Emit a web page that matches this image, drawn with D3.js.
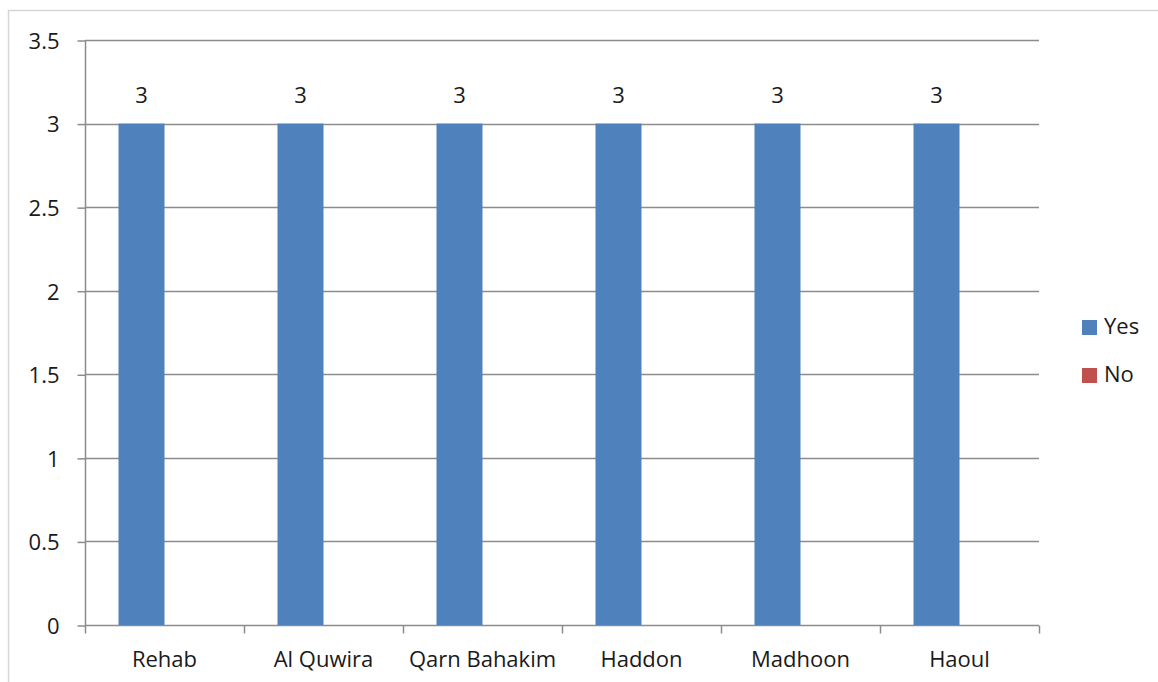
<!DOCTYPE html>
<html>
<head>
<meta charset="utf-8">
<script src="https://cdn.jsdelivr.net/npm/d3@7/dist/d3.min.js"></script>
<style>
  html, body { margin: 0; padding: 0; background: #fff; }
  svg { display: block; font-family: "Open Sans", "Liberation Sans", sans-serif; }
</style>
</head>
<body>
<svg id="chart" width="1158" height="682"></svg>
<script>
// Sites surveyed and the count of "Yes" / "No" answers for each
const categories = ["Rehab", "Al Quwira", "Qarn Bahakim", "Haddon", "Madhoon", "Haoul"];
const seriesNames = ["Yes", "No"];
const yesValues = [3, 3, 3, 3, 3, 3];
const noValues = [null, null, null, null, null, null];
const yTickValues = [0, 0.5, 1, 1.5, 2, 2.5, 3, 3.5];
const yTickLabels = ["0", "0.5", "1", "1.5", "2", "2.5", "3", "3.5"];
const colors = { Yes: "#4F81BD", No: "#C0504D" };

const svg = d3.select("#chart");
const gridColor = "#8c8c8c";

// outer chart frame
svg.append("rect")
  .attr("x", 8.5).attr("y", 10.5)
  .attr("width", 1170).attr("height", 690)
  .attr("fill", "none").attr("stroke", "#d6d6d6").attr("stroke-width", 1.5);

const plot = { left: 85, right: 1039, top: 40, bottom: 625 };

const y = d3.scaleLinear().domain([0, 3.5]).range([plot.bottom, plot.top]);
const x = d3.scaleBand().domain(categories).range([plot.left, plot.right]).paddingInner(0).paddingOuter(0);
const xs = d3.scaleBand().domain(seriesNames).range([0, x.bandwidth()]).paddingInner(0).paddingOuter(0.728);

// horizontal gridlines
svg.append("g").selectAll("line")
  .data(yTickValues.filter(v => v > 0))
  .join("line")
  .attr("x1", plot.left).attr("x2", plot.right)
  .attr("y1", d => Math.round(y(d)) + 0.5).attr("y2", d => Math.round(y(d)) + 0.5)
  .attr("stroke", gridColor).attr("stroke-width", 1.5);

// y axis
const yAxis = d3.axisLeft(y)
  .tickValues(yTickValues)
  .tickFormat((d, i) => yTickLabels[i])
  .tickSize(8).tickPadding(18);
const gy = svg.append("g").attr("transform", `translate(${plot.left + 0.5},0.5)`).call(yAxis);
gy.select(".domain").attr("stroke", gridColor).attr("stroke-width", 1.5).attr("d", `M0,${plot.top}V${plot.bottom}`);
gy.selectAll(".tick line").attr("stroke", gridColor).attr("stroke-width", 1.5);
gy.selectAll(".tick text").attr("font-size", 22).attr("fill", "#1a1a1a")
  .attr("font-family", "'Open Sans', sans-serif").attr("dy", "0.36em");

// x axis with tick marks at category boundaries
const gx = svg.append("g").attr("transform", `translate(0,${plot.bottom + 0.5})`);
gx.append("line")
  .attr("x1", plot.left).attr("x2", plot.right)
  .attr("stroke", gridColor).attr("stroke-width", 1.5);
const bounds = categories.map(c => x(c)).concat([x(categories[categories.length - 1]) + x.bandwidth()]);
gx.selectAll("line.tk").data(bounds).join("line").attr("class", "tk")
  .attr("x1", d => Math.round(d) + 0.5).attr("x2", d => Math.round(d) + 0.5)
  .attr("y1", 0).attr("y2", 8)
  .attr("stroke", gridColor).attr("stroke-width", 1.5);
gx.selectAll("text").data(categories).join("text")
  .attr("x", d => x(d) + x.bandwidth() / 2)
  .attr("y", 41)
  .attr("text-anchor", "middle")
  .attr("font-size", 22).attr("fill", "#1a1a1a")
  .text(d => d);

// bars
const rows = categories.map((c, i) => ({ cat: c, Yes: yesValues[i], No: noValues[i] }));
const groups = svg.append("g").selectAll("g")
  .data(rows).join("g")
  .attr("transform", d => `translate(${x(d.cat)},0)`);

groups.selectAll("rect")
  .data(d => seriesNames.map(s => ({ s, v: d[s] })).filter(e => e.v != null))
  .join("rect")
  .attr("x", d => xs(d.s))
  .attr("width", xs.bandwidth())
  .attr("y", d => y(d.v))
  .attr("height", d => y(0) - y(d.v))
  .attr("fill", d => colors[d.s]);

// value labels above the bars
groups.selectAll("text")
  .data(d => seriesNames.map(s => ({ s, v: d[s] })).filter(e => e.v != null))
  .join("text")
  .attr("x", d => xs(d.s) + xs.bandwidth() / 2)
  .attr("y", d => y(d.v) - 21)
  .attr("text-anchor", "middle")
  .attr("font-size", 22).attr("fill", "#1a1a1a")
  .text(d => d.v);

// legend
const legend = svg.append("g").attr("transform", "translate(1082,320)");
const li = legend.selectAll("g").data(seriesNames).join("g")
  .attr("transform", (d, i) => `translate(0,${i * 48})`);
li.append("rect").attr("width", 15).attr("height", 15).attr("fill", d => colors[d]);
li.append("text").attr("x", 22).attr("y", 14)
  .attr("font-size", 22).attr("fill", "#1a1a1a").text(d => d);
</script>
</body>
</html>
